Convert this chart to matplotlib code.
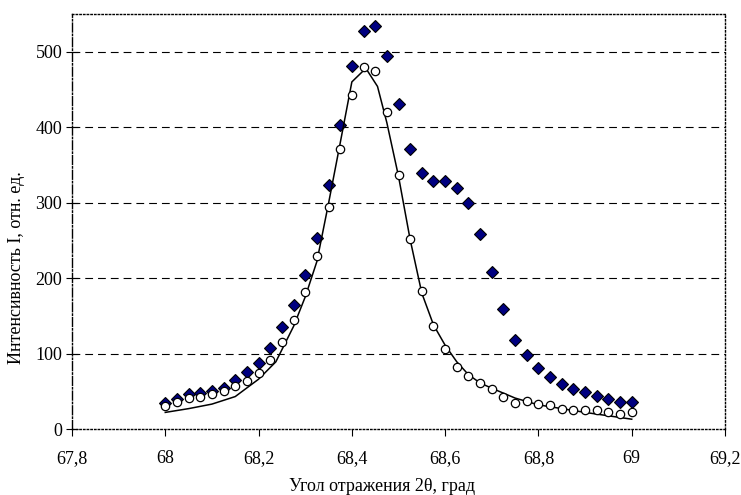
import matplotlib
matplotlib.use('Agg')
import matplotlib.pyplot as plt
import numpy as np

plt.rcParams['font.family'] = ['Liberation Serif', 'DejaVu Serif']

# measured angle grid (step 0.025 from 68 to 69)
angle = np.round(np.arange(68.0, 69.0001, 0.025), 3)

# diamonds
int_a = [34, 40, 46, 48, 51, 54, 65, 75, 88, 108, 135, 165, 204, 253, 323,
         403, 481, 527, 534, 495, 431, 371, 339, 329, 329, 319, 300, 259,
         208, 159, 118, 98, 81, 69, 60, 53, 49, 44, 40, 36, 36]

# open circles
int_b = [31, 36, 41, 43, 46, 50, 57, 64, 74, 92, 115, 145, 181, 229, 294,
         371, 443, 480, 475, 420, 336, 252, 183, 137, 106, 82, 70, 61,
         53, 43, 35, 37, 33, 32, 27, 25, 25, 25, 23, 20, 22]

# fitted curve
fit_x = [68.0, 68.05, 68.1, 68.15, 68.2, 68.237, 68.275, 68.3, 68.325, 68.35,
         68.375, 68.4, 68.43, 68.455, 68.475, 68.5, 68.525, 68.55, 68.575,
         68.6, 68.625, 68.65, 68.675, 68.7, 68.75, 68.8, 68.9, 69.0]
fit_y = [22, 27, 33, 43, 66, 89, 136, 175, 222, 299,
         379, 460, 478, 454, 406, 335, 251, 180, 138,
         111, 89, 72, 61, 54, 41, 32, 22, 13]

xticks = [67.8, 68.0, 68.2, 68.4, 68.6, 68.8, 69.0, 69.2]
xtick_labels = ['67,8', '68', '68,2', '68,4', '68,6', '68,8', '69', '69,2']
yticks = [0, 100, 200, 300, 400, 500]

fig = plt.figure(figsize=(7.41, 4.95), dpi=100)
ax = fig.add_axes([72/741, 1 - 429/495, (725 - 72)/741, (429 - 14)/495])

ax.set_xlim(67.8, 69.2)
ax.set_ylim(0, 550)

for y in yticks[1:]:
    ax.axhline(y, color='black', lw=0.8, ls=(0, (7, 4.5)), zorder=1)

ax.plot(angle, int_a, ls='none', marker='D', ms=6.5, mfc='#000080',
        mec='black', mew=0.8, zorder=3)
ax.plot(fit_x, fit_y, color='black', lw=1.1, zorder=4)
ax.plot(angle, int_b, ls='none', marker='o', ms=6, mfc='white',
        mec='black', mew=0.9, zorder=5)

ax.set_xticks(xticks)
ax.set_xticklabels(xtick_labels)
ax.set_yticks(yticks)
ax.tick_params(axis='x', direction='out', length=5, width=0.8, labelsize=13, pad=10)
ax.tick_params(axis='y', direction='inout', length=8, width=0.8, labelsize=13, pad=3)

for side in ['top', 'right', 'bottom']:
    ax.spines[side].set_linestyle(':')
    ax.spines[side].set_linewidth(1.0)
ax.spines['left'].set_linestyle('-.')
ax.spines['left'].set_linewidth(1.0)

ax.set_xlabel('Угол отражения 2θ, град', fontsize=13)
ax.set_ylabel('Интенсивность I, отн. ед.', fontsize=13)
ax.xaxis.set_label_coords(0.475, -0.118)
ax.yaxis.set_label_coords(-0.072, 0.39)

fig.savefig('out.png', dpi=100)
